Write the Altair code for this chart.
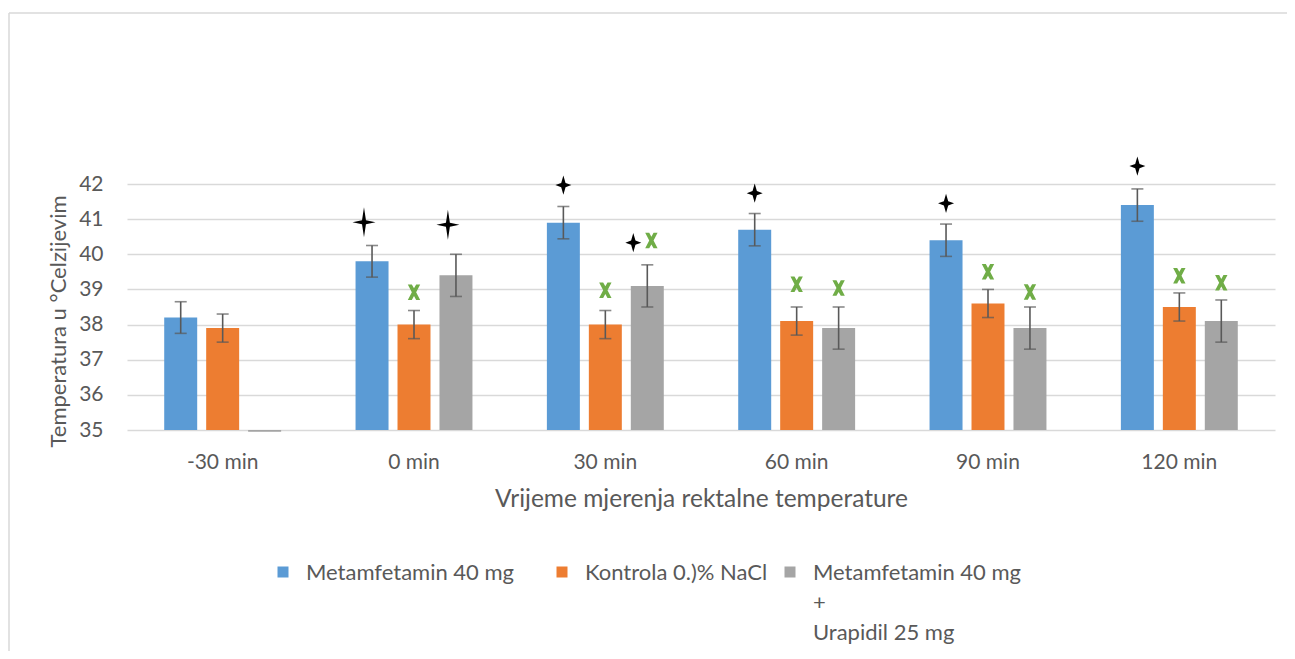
import altair as alt
import pandas as pd

# ---------------- data ----------------
times = ["-30 min", "0 min", "30 min", "60 min", "90 min", "120 min"]
series = ["Metamfetamin 40 mg", "Kontrola 0.)% NaCl", "Metamfetamin 40 mg\n+\nUrapidil 25 mg"]
colors = ["#5B9BD5", "#ED7D31", "#A5A5A5"]

meth_vals = [38.2, 39.8, 40.9, 40.7, 40.4, 41.4]
ctrl_vals = [37.9, 38.0, 38.0, 38.1, 38.6, 38.5]
urap_vals = [34.95, 39.4, 39.1, 37.9, 37.9, 38.1]

meth_err = [0.45, 0.45, 0.46, 0.46, 0.46, 0.46]
ctrl_err = [0.40, 0.40, 0.40, 0.40, 0.40, 0.40]
urap_err = [None, 0.60, 0.60, 0.60, 0.60, 0.60]

# significance markers (black stars / green x)
star_big_times = ["0 min", "0 min"]
star_big_series = [series[0], series[2]]
star_big_y = [40.91, 40.84]

star_small_times = ["30 min", "60 min", "90 min", "120 min"]
star_small_series = [series[0], series[0], series[0], series[0]]
star_small_y = [41.97, 41.74, 41.45, 42.51]

star_pair_times = ["30 min"]
star_pair_series = [series[2]]
star_pair_y = [40.33]

xmark_times = ["0 min", "30 min", "60 min", "60 min", "90 min", "90 min", "120 min", "120 min"]
xmark_series = [series[1], series[1], series[1], series[2], series[1], series[2], series[1], series[2]]
xmark_y = [38.92, 38.98, 39.15, 39.04, 39.50, 38.93, 39.39, 39.19]

xmark_pair_times = ["30 min"]
xmark_pair_series = [series[2]]
xmark_pair_y = [40.39]

# ---------------- tables ----------------
rows = []
for vals, errs, s in [(meth_vals, meth_err, series[0]), (ctrl_vals, ctrl_err, series[1]), (urap_vals, urap_err, series[2])]:
    for t, v, e in zip(times, vals, errs):
        rows.append({"time": t, "series": s, "value": v,
                     "lo": None if e is None else v - e,
                     "hi": None if e is None else v + e})
df = pd.DataFrame(rows)
df_err = df.dropna(subset=["lo"])

def mk(ts, ss, ys):
    return pd.DataFrame({"time": ts, "series": ss, "y": ys})

TEXT = "#595959"
FONT = "Lato"

x_enc = alt.X("time:N", sort=times,
              scale=alt.Scale(paddingInner=0.389, paddingOuter=0.1945),
              axis=alt.Axis(title="Vrijeme mjerenja rektalne temperature", labelAngle=0,
                            domain=False, ticks=False, grid=False,
                            labelFont=FONT, labelFontSize=21, labelColor=TEXT,
                            labelBaseline="middle", labelPadding=32,
                            titleFont=FONT, titleFontSize=24.5, titleColor=TEXT,
                            titleFontWeight="normal", titleBaseline="middle", titleY=69))
xo_enc = alt.XOffset("series:N", sort=series,
                     scale=alt.Scale(paddingInner=0.214, paddingOuter=0))
y_scale = alt.Scale(domain=[35, 42], nice=False, zero=False)
y_axis = alt.Axis(title="Temperatura u °Celzijevim", values=[35, 36, 37, 38, 39, 40, 41, 42],
                  tickCount=8, labelOverlap=False,
                  domain=False, ticks=False, tickSize=0, grid=True,
                  gridColor="#D9D9D9", gridWidth=1.3,
                  labelFont=FONT, labelFontSize=21, labelColor=TEXT, labelPadding=24,
                  titleFont=FONT, titleFontSize=22, titleColor=TEXT, titleFontWeight="normal",
                  titleAngle=270, titleAlign="center", titleBaseline="middle",
                  titleX=-69, titleY=137)

def Y(field):
    return alt.Y(field, scale=y_scale, axis=y_axis)

bars = alt.Chart(df).mark_bar().encode(
    x=x_enc, xOffset=xo_enc,
    y=Y("value:Q"),
    y2=alt.datum(35),
    color=alt.Color("series:N", scale=alt.Scale(domain=series, range=colors), legend=None),
)

err_rule = alt.Chart(df_err).mark_rule(color="#595959", strokeWidth=1.6).encode(
    x=x_enc, xOffset=xo_enc, y=Y("lo:Q"), y2="hi:Q")
cap_lo = alt.Chart(df_err).mark_tick(color="#595959", thickness=1.6, size=12).encode(
    x=x_enc, xOffset=xo_enc, y=Y("lo:Q"))
cap_hi = alt.Chart(df_err).mark_tick(color="#595959", thickness=1.6, size=12).encode(
    x=x_enc, xOffset=xo_enc, y=Y("hi:Q"))

# symbol outlines (unit coords; the large star sits a little left of its bar,
# the paired star clearly left of the paired green x)
STAR_BIG = ("M-0.7,-1.3 L-0.53,-0.17 L0.3,0 L-0.53,0.17 L-0.7,1.3 L-0.87,0.17 "
            "L-1.7,0 L-0.87,-0.17 Z")
STAR_SMALL = "M0,-1.2 L0.27,-0.27 L1,0 L0.27,0.27 L0,1.2 L-0.27,0.27 L-1,0 L-0.27,-0.27 Z"
STAR_PAIR = ("M-1.75,-1.2 L-1.48,-0.27 L-0.75,0 L-1.48,0.27 L-1.75,1.2 L-2.02,0.27 "
             "L-2.75,0 L-2.02,-0.27 Z")
XSHAPE = ("M-0.8,-1 L-0.28,-1 L0,-0.5 L0.28,-1 L0.8,-1 L0.28,0 L0.8,1 L0.28,1 "
          "L0,0.5 L-0.28,1 L-0.8,1 L-0.28,0 Z")
XSHAPE_PAIR = ("M-0.27,-1 L0.25,-1 L0.53,-0.5 L0.81,-1 L1.33,-1 L0.81,0 L1.33,1 L0.81,1 "
               "L0.53,0.5 L0.25,1 L-0.27,1 L0.25,0 Z")

def marker(d, shape, size, color):
    return alt.Chart(d).mark_point(shape=shape, size=size, filled=True, color=color,
                                   opacity=1, strokeWidth=0).encode(
        x=x_enc, xOffset=xo_enc, y=Y("y:Q"))

m1 = marker(mk(star_big_times, star_big_series, star_big_y), STAR_BIG, 529, "black")
m2 = marker(mk(star_small_times, star_small_series, star_small_y), STAR_SMALL, 256, "black")
m3 = marker(mk(star_pair_times, star_pair_series, star_pair_y), STAR_PAIR, 256, "black")
m4 = marker(mk(xmark_times, xmark_series, xmark_y), XSHAPE, 240, "#70AD47")
m5 = marker(mk(xmark_pair_times, xmark_pair_series, xmark_pair_y), XSHAPE_PAIR, 240, "#70AD47")

# ---------------- legend (manual) ----------------
legend_layers = []
leg_x = [156, 435, 663]
for i, s in enumerate(series):
    d = pd.DataFrame({"label": [s]})
    legend_layers.append(alt.Chart(d).mark_square(size=121, color=colors[i], opacity=1).encode(
        x=alt.value(leg_x[i]), y=alt.value(388)))
    legend_layers.append(alt.Chart(d).mark_text(
        align="left", baseline="alphabetic", lineBreak="\n", lineHeight=30,
        font=FONT, fontSize=22, color=TEXT).encode(
        x=alt.value(leg_x[i] + 23), y=alt.value(396), text="label:N"))

# ---------------- frame ----------------
one = pd.DataFrame({"a": [0]})
frame_left = alt.Chart(one).mark_rule(color="#D9D9D9", strokeWidth=1.5).encode(
    x=alt.value(-118), y=alt.value(-171), y2=alt.value(470))
frame_top = alt.Chart(one).mark_rule(color="#D9D9D9", strokeWidth=1.5).encode(
    x=alt.value(-118), x2=alt.value(1200), y=alt.value(-171))

chart = alt.layer(bars, err_rule, cap_lo, cap_hi, m1, m2, m3, m4, m5,
                  frame_left, frame_top, *legend_layers).properties(
    width=1148, height=246,
    autosize=alt.AutoSizeParams(type="none"),
    padding={"left": 119, "top": 176, "right": 12, "bottom": 221},
    background="white",
).configure_view(stroke=None)

chart.save("out.html", embed_options={"renderer": "svg", "actions": False})
